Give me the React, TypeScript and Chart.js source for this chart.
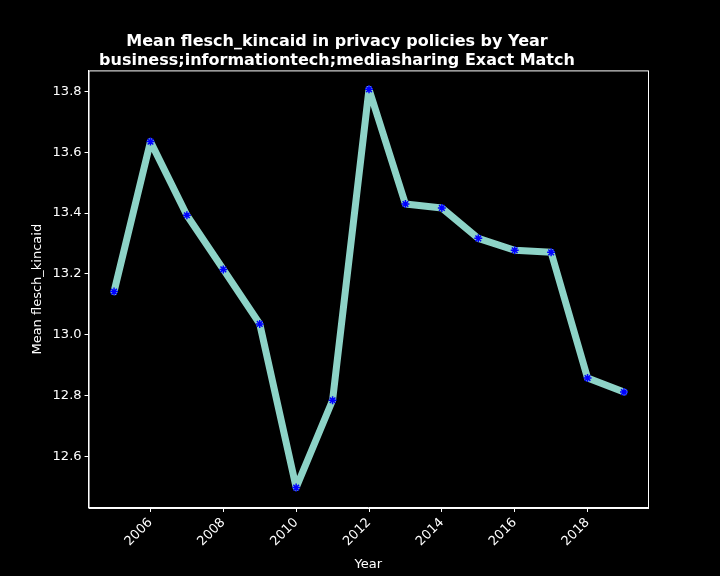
import Chart from "chart.js/auto";
import { useEffect, useRef } from "react";

const years: number[] = [2005, 2006, 2007, 2008, 2009, 2010, 2011, 2012, 2013, 2014, 2015, 2016, 2017, 2018, 2019];
const meanValues: number[] = [13.142, 13.635, 13.393, 13.215, 13.036, 12.498, 12.785, 13.807, 13.43, 13.417, 13.317, 13.278, 13.271, 12.858, 12.812];
const xTicks: number[] = [2006, 2008, 2010, 2012, 2014, 2016, 2018];
const yTicks: number[] = [12.6, 12.8, 13.0, 13.2, 13.4, 13.6, 13.8];

const App: React.FC = () => {
  const chartRef = useRef<HTMLCanvasElement | null>(null);

  useEffect(() => {
    document.body.style.margin = "0";
    document.body.style.background = "#000";
    if (!chartRef.current) return;
    const font = "'DejaVu Sans', sans-serif";
    const bg = {
      id: "bg",
      beforeDraw: (c: Chart) => {
        const ctx = c.ctx;
        ctx.save();
        ctx.fillStyle = "#000";
        ctx.fillRect(0, 0, c.width, c.height);
        ctx.restore();
      },
      afterDraw: (c: Chart) => {
        const { ctx, chartArea: a } = c;
        ctx.save();
        ctx.strokeStyle = "#fff";
        ctx.lineWidth = 1;
        ctx.strokeRect(a.left + 0.5, a.top + 0.5, a.right - a.left, a.bottom - a.top);
        ctx.restore();
      },
    };
    const chart = new Chart(chartRef.current, {
      type: "line",
      data: {
        datasets: [{
          data: years.map((y, i) => ({ x: y, y: meanValues[i] })),
          borderColor: "#8dd3c7",
          borderWidth: 7,
          borderJoinStyle: "round",
          borderCapStyle: "round",
          pointStyle: "star",
          pointRadius: 4,
          pointBorderColor: "#0000ff",
          pointBackgroundColor: "#0000ff",
          pointBorderWidth: 1.5,
          tension: 0,
        }],
      },
      options: {
        animation: false,
        responsive: false,
        layout: { padding: { left: 26, right: 72, top: 10, bottom: 0 } },
        plugins: {
          legend: { display: false },
          tooltip: { enabled: false },
          title: {
            display: true,
            text: ["Mean flesch_kincaid in privacy policies by Year", "business;informationtech;mediasharing Exact Match"],
            color: "#fff",
            font: { family: font, size: 16, weight: "bold" },
            padding: { top: 22, bottom: 0 },
          },
        },
        scales: {
          x: {
            type: "linear",
            min: 2004.3,
            max: 2019.66,
            afterBuildTicks: (s: any) => { s.ticks = xTicks.map((v) => ({ value: v })); },
            grid: { display: true, drawOnChartArea: false, color: "#fff", tickLength: 4 },
            border: { color: "#fff" },
            ticks: { color: "#fff", font: { family: font, size: 13 }, maxRotation: 45, minRotation: 45, callback: (v: any) => String(v) },
            title: { display: true, text: "Year", color: "#fff", font: { family: font, size: 13 } },
          },
          y: {
            min: 12.431,
            max: 13.869,
            afterBuildTicks: (s: any) => { s.ticks = yTicks.map((v) => ({ value: v })); },
            grid: { display: true, drawOnChartArea: false, color: "#fff", tickLength: 4 },
            border: { color: "#fff" },
            ticks: { color: "#fff", font: { family: font, size: 13 }, callback: (v: any) => Number(v).toFixed(1) },
            title: { display: true, text: "Mean flesch_kincaid", color: "#fff", font: { family: font, size: 13 } },
          },
        },
      },
      plugins: [bg],
    });
    return () => chart.destroy();
  }, []);

  return <canvas ref={chartRef} width="720" height="576" style={{ display: "block" }} />;
};

export default App;
